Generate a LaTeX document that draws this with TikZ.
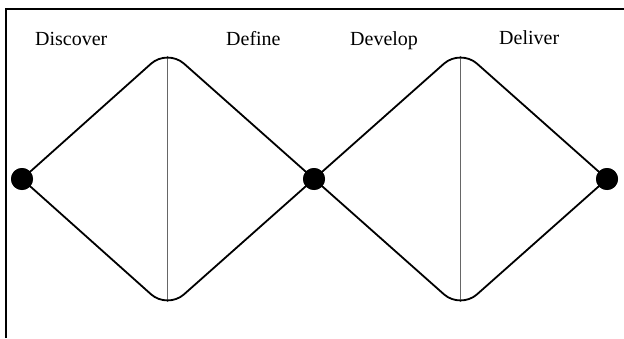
\documentclass[tikz,border=0pt]{standalone}
\usepackage{fontspec}
\setmainfont{Liberation Serif}
\begin{document}
\begin{tikzpicture}[x=1pt,y=1pt,
  lbl/.style={anchor=base west,inner sep=0pt,font=\fontsize{20}{24}\selectfont},
  dot/.style={circle,fill=black,minimum size=22pt,inner sep=0pt},
  side/.style={line width=1.8pt,rounded corners=22pt},
  mid/.style={line width=0.9pt,draw=black!60}]
\useasboundingbox (0,0) rectangle (624,338);
\draw[line width=1.5pt] (6,0) -- (6,329) -- (624,329);
\coordinate (t1) at (167.5,289);
\coordinate (b1) at (167.5,29);
\coordinate (t2) at (460.5,289);
\coordinate (b2) at (460.5,29);
\coordinate (p1) at (167.5,282);
\coordinate (q1) at (167.5,36);
\coordinate (p2) at (460.5,282);
\coordinate (q2) at (460.5,36);
\draw[mid] (p1) -- (q1);
\draw[mid] (p2) -- (q2);
\node[dot] (d1) at (22,159) {};
\node[dot] (d2) at (314,159) {};
\node[dot] (d3) at (607,159) {};
\draw[side] (d1.center) -- (t1) -- (d2.center);
\draw[side] (d1.center) -- (b1) -- (d2.center);
\draw[side] (d2.center) -- (t2) -- (d3.center);
\draw[side] (d2.center) -- (b2) -- (d3.center);
\node[dot] at (d1) {};
\node[dot] at (d2) {};
\node[dot] at (d3) {};
\node[lbl] (l1) at (35,292) {Discover};
\node[lbl] (l2) at (226,292) {Define};
\node[lbl] (l3) at (350,292) {Develop};
\node[lbl] (l4) at (499,293) {Deliver};
\end{tikzpicture}
\end{document}
